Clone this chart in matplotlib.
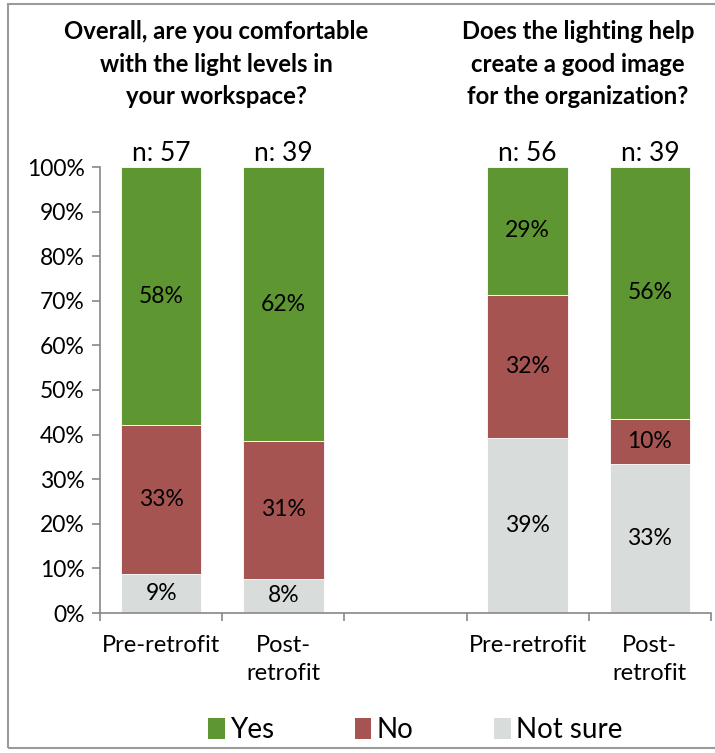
import matplotlib
matplotlib.use("Agg")
import matplotlib.pyplot as plt
from matplotlib.patches import Rectangle, Patch
import numpy as np

plt.rcParams['font.family'] = ['Lato', 'DejaVu Sans']

categories = ["Pre-retrofit", "Post-\nretrofit", "", "Pre-retrofit", "Post-\nretrofit"]
not_sure = [8.8, 7.7, np.nan, 39.3, 33.3]
no = [33.3, 30.8, np.nan, 32.1, 10.3]
yes = [57.9, 61.5, np.nan, 28.6, 56.4]
not_sure_lbl = ["9%", "8%", "", "39%", "33%"]
no_lbl = ["33%", "31%", "", "32%", "10%"]
yes_lbl = ["58%", "62%", "", "29%", "56%"]
n_lbl = ["n: 57", "n: 39", "", "n: 56", "n: 39"]
titles = ["Overall, are you comfortable\nwith the light levels in\nyour workspace?",
          "Does the lighting help\ncreate a good image\nfor the organization?"]
series_names = ["Yes", "No", "Not sure"]
colors = {"Yes": "#5E9732", "No": "#A65452", "Not sure": "#D8DCDB"}

W, H = 715, 753
fig = plt.figure(figsize=(W / 100, H / 100), dpi=100)
ax = fig.add_axes([100 / W, 1 - 613 / H, 611 / W, 446 / H])

x = np.arange(len(categories))
bw = 0.66
ns = np.nan_to_num(not_sure)
nn = np.nan_to_num(no)
yy = np.nan_to_num(yes)
ax.bar(x, ns, bw, color=colors["Not sure"], edgecolor="white", linewidth=0.6)
ax.bar(x, nn, bw, bottom=ns, color=colors["No"], edgecolor="white", linewidth=0.6)
ax.bar(x, yy, bw, bottom=ns + nn, color=colors["Yes"], edgecolor="white", linewidth=0.6)

fs = 16.5
for i in range(len(categories)):
    if not categories[i]:
        continue
    ax.text(x[i], ns[i] / 2, not_sure_lbl[i], ha="center", va="center", fontsize=fs)
    ax.text(x[i], ns[i] + nn[i] / 2, no_lbl[i], ha="center", va="center", fontsize=fs)
    ax.text(x[i], ns[i] + nn[i] + yy[i] / 2, yes_lbl[i], ha="center", va="center", fontsize=fs)
    ax.text(x[i], 100.2, n_lbl[i], ha="center", va="bottom", fontsize=19)

ax.set_xlim(-0.5, len(categories) - 0.5)
ax.set_ylim(0, 100)
ax.set_yticks(np.arange(0, 101, 10))
ax.set_yticklabels([f"{v}%" for v in range(0, 101, 10)], fontsize=16.5)
ax.set_xticks(x)
ax.set_xticklabels(categories, fontsize=17, linespacing=1.4)
ax.set_xticks(np.arange(-0.5, len(categories), 1), minor=True)
ax.tick_params(axis="x", which="major", length=0, pad=16)
ax.tick_params(axis="x", which="minor", length=6, color="#888888", width=1.2)
ax.tick_params(axis="y", length=6, color="#888888", width=1.2, pad=5)
for s in ["top", "right"]:
    ax.spines[s].set_visible(False)
for s in ["left", "bottom"]:
    ax.spines[s].set_color("#888888")
    ax.spines[s].set_linewidth(1.2)

fig.text(216 / W, 1 - 20 / H, titles[0], ha="center", va="top", fontsize=17.2,
         fontweight="bold", linespacing=1.5)
fig.text(578 / W, 1 - 20 / H, titles[1], ha="center", va="top", fontsize=17.2,
         fontweight="bold", linespacing=1.5)

handles = [Patch(facecolor=colors[n], label=n) for n in series_names]
fig.legend(handles=handles, loc="center", bbox_to_anchor=(0.581, 1 - 730 / H),
           ncol=3, frameon=False, fontsize=20, handlelength=0.6, handleheight=0.8,
           handletextpad=0.2, columnspacing=2.9)

fig.patches.append(Rectangle((8 / W, 1 - 748 / H), 1.0, 744 / H, transform=fig.transFigure,
                             fill=False, edgecolor="#9A9A9A", linewidth=1.5))

fig.savefig("out.png", dpi=100)
